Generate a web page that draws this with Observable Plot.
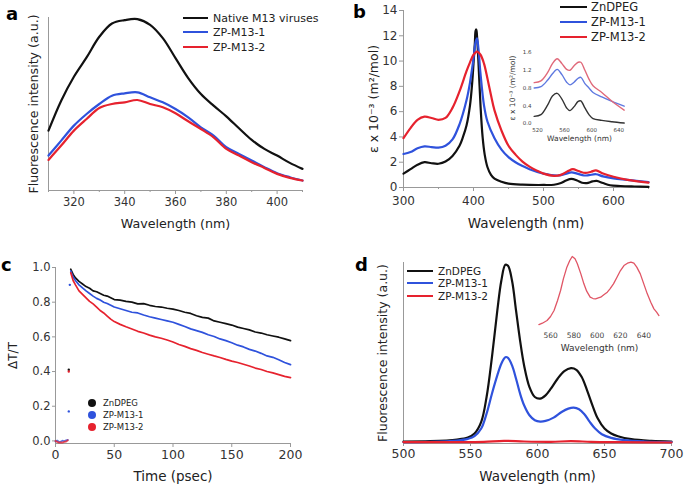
<!DOCTYPE html>
<html><head><meta charset="utf-8">
<script src="https://cdn.jsdelivr.net/npm/d3@7"></script>
<script src="https://cdn.jsdelivr.net/npm/@observablehq/plot@0.6"></script>
<style>
body{margin:0;background:#fff;}
#root{position:relative;width:685px;height:491px;overflow:hidden;font-family:"DejaVu Sans",sans-serif;color:#222;}
.letter{position:absolute;font-weight:bold;font-size:18px;line-height:20px;color:#000;}
.legrow{position:absolute;display:flex;align-items:center;white-space:nowrap;color:#222;}
</style>
</head><body><div id="root"></div>
<script>
// ---------- colours ----------
const cBlack = "#111111", cBlue = "#2f52dc", cRed = "#e6222e";

// ---------- panel a : fluorescence of M13 (arbitrary units) ----------
const aWavelength = [310,315,320,325,330,335,340,345,350,355,360,365,370,375,380,385,390,395,400,405,410];
const aNative = [180,270,342,400,462,502,512,515,498,458,398,338,290,255,223,187,152,125,105,83,65];
const aZP1    = [105,150,195,230,260,285,292,295,280,265,245,220,190,165,130,110,90,70,52,40,30];
const aZP2    = [92,135,180,215,248,260,265,272,260,250,232,208,185,160,125,105,85,68,50,38,30];
const aSeries = ["Native M13 viruses","ZP-M13-1","ZP-M13-2"];
const aTicks = [320,340,360,380,400];
const aMinor = [310,330,350,370,390,410];

// ---------- panel b : absorption ----------
const bBlackX = [300,310,320,330,340,350,360,370,380,385,390,395,398,400,402,403,404,405,407,410,413,416,420,425,430,440,450,470,500,515,525,532,540,548,555,562,570,576,585,595,610,630,650];
const bBlackY = [1.1,1.45,1.8,2.0,1.92,1.88,2.05,2.5,3.3,4.0,4.9,6.5,8.2,9.8,11.5,12.4,12.5,12.0,10.0,6.5,4.0,2.6,1.6,1.0,0.7,0.45,0.3,0.22,0.2,0.22,0.35,0.55,0.68,0.55,0.38,0.35,0.48,0.52,0.35,0.18,0.12,0.08,0.05];
const bBlueX = [300,310,320,330,340,350,360,370,380,390,395,400,403,405,407,410,415,420,430,440,450,460,470,480,500,520,530,540,548,558,565,575,585,600,620,650];
const bBlueY = [2.65,2.8,3.1,3.25,3.2,3.15,3.3,3.8,5.0,6.9,8.3,10.2,11.5,11.8,11.0,9.0,6.5,5.2,3.9,3.0,2.4,2.0,1.7,1.45,1.1,0.95,1.05,1.2,1.1,0.95,0.98,1.05,0.88,0.72,0.6,0.42];
const bRedX = [300,310,320,330,340,350,360,370,380,390,395,400,405,410,415,420,425,430,440,450,460,470,480,490,500,515,525,535,542,550,560,568,575,585,600,620,650];
const bRedY = [3.9,4.7,5.35,5.6,5.5,5.35,5.5,6.3,7.6,9.2,9.9,10.5,10.75,10.5,9.8,8.6,7.3,6.1,4.5,3.3,2.6,2.05,1.65,1.35,1.1,0.92,1.0,1.3,1.45,1.3,1.15,1.25,1.35,1.1,0.85,0.6,0.38];
const bSeries = ["ZnDPEG","ZP-M13-1","ZP-M13-2"];
const bYTicks = [0,2,4,6,8,10,12,14];
const bXTicks = [300,400,500,600];
const bXMinor = [350,450,550,650];

// inset b
const biX = [515,525,535,542,549,556,563,568,574,580,584,590,596,602,615,630,648];
const biBlack = [0.16,0.2,0.42,0.62,0.68,0.55,0.35,0.29,0.38,0.5,0.51,0.35,0.2,0.11,0.07,0.04,0.01];
const biBlue  = [0.8,0.83,0.98,1.12,1.22,1.1,0.93,0.87,0.93,1.02,1.04,0.9,0.8,0.7,0.6,0.5,0.39];
const biRed   = [0.92,0.96,1.15,1.35,1.46,1.35,1.22,1.2,1.3,1.38,1.38,1.2,1.0,0.85,0.7,0.5,0.3];
const biXTicks = [520,560,600,640];
const biYTicks = [0,0.4,0.8,1.2,1.6];

// ---------- panel c : transient absorption ----------
const cTime = [13,15,17,20,23,26,29,32,35,38,41,44,47,50,55,60,65,70,75,80,85,90,95,100,105,110,115,120,125,130,135,140,145,150,155,160,165,170,175,180,185,190,195,200];
const cZn  = [0.99,0.96,0.94,0.92,0.905,0.89,0.88,0.865,0.86,0.85,0.84,0.835,0.825,0.815,0.812,0.805,0.80,0.79,0.792,0.782,0.775,0.772,0.765,0.76,0.752,0.742,0.735,0.722,0.712,0.708,0.692,0.684,0.676,0.668,0.656,0.648,0.64,0.628,0.622,0.612,0.605,0.598,0.588,0.578];
const cZP1 = [0.98,0.945,0.925,0.9,0.882,0.865,0.85,0.835,0.822,0.812,0.80,0.792,0.782,0.772,0.762,0.752,0.742,0.738,0.726,0.716,0.708,0.70,0.692,0.684,0.672,0.66,0.646,0.636,0.626,0.612,0.602,0.588,0.578,0.566,0.552,0.542,0.528,0.518,0.505,0.49,0.482,0.468,0.452,0.44];
const cZP2 = [0.97,0.925,0.9,0.865,0.845,0.825,0.805,0.79,0.772,0.752,0.738,0.72,0.702,0.688,0.672,0.658,0.645,0.632,0.622,0.61,0.60,0.592,0.582,0.57,0.556,0.545,0.532,0.522,0.51,0.50,0.49,0.481,0.47,0.46,0.452,0.442,0.432,0.42,0.412,0.40,0.392,0.382,0.372,0.365];
const cBaseTime = [0,1.5,3,4.5,6,7.5,9,10.5];
const cBaseRed  = [0.0,-0.006,-0.01,-0.008,-0.01,-0.005,-0.004,0.004];
const cBaseBlue = [-0.003,0.002,-0.006,-0.004,0.001,-0.002,0.003,0.006];
const cSpikeT = [11.3,11.3,11.3,12.2];
const cSpikeV = [0.41,0.40,0.17,0.90];
const cSpikeS = ["ZnDPEG","ZP-M13-2","ZP-M13-1","ZP-M13-1"];
const cXTicks = [0,50,100,150,200];
const cYTicks = [0,0.2,0.4,0.6,0.8,1.0];

// ---------- panel d : fluorescence ----------
const dBlackX = [500,520,540,548,553,558,562,566,570,573,576,578,581,584,587,590,594,598,602,606,610,615,620,625,629,633,637,641,645,650,655,660,670,685,700];
const dBlackY = [6,7,12,18,30,65,140,260,400,490,538,535,490,400,310,235,170,140,135,145,165,195,218,227,222,200,160,115,75,45,30,22,13,8,6];
const dBlueX = [500,520,540,548,553,558,562,566,570,573,576,578,581,584,587,590,594,598,602,606,612,618,623,627,631,635,639,643,648,655,665,680,700];
const dBlueY = [4,5,9,14,22,45,90,150,205,240,260,258,235,195,150,115,85,70,66,68,78,95,105,108,103,88,65,45,28,17,10,6,4];
const dRedX = [500,540,560,575,590,610,625,640,660,700];
const dRedY = [4,4,5,8,6,5,7,5,4,3];
const dXTicks = [500,550,600,650,700];
// inset d
const diX = [550,553,557,560,563,566,568.6,571,574,576.5,578.6,581,583,586,588.6,591,594,596.5,598.6,601,603,606,608.7,611,614,617,620,623,626,629,631.5,634,637,640,643,646,648.7,651,653];
const diY = [8,12,20,32,50,80,110,145,180,200,212,205,190,160,130,108,90,86,85,88,90,98,105,115,130,150,170,185,192,195,192,180,160,130,100,75,55,45,35];
const diXTicks = [560,580,600,620,640];

// ---------- helpers ----------
const root = document.getElementById("root");
const AX = "#999";
const FONT = "DejaVu Sans";
function place(opts, left, top) {
  const svg = Plot.plot({
    ...opts,
    style: {background: "transparent", fontFamily: FONT, overflow: "visible", color: "#222"}
  });
  svg.style.position = "absolute";
  svg.style.left = left + "px";
  svg.style.top = top + "px";
  root.appendChild(svg);
}
function rows(xs, ys, s) { return xs.map((x, i) => ({x, y: ys[i], s})); }
function letter(t, left, top) {
  const d = document.createElement("div"); d.className = "letter"; d.textContent = t;
  d.style.left = left + "px"; d.style.top = top + "px"; root.appendChild(d);
}
function ytitle(t, dx, fontSize, fill = "#222") {
  return Plot.text([t], {text: d => d, frameAnchor: "left", textAnchor: "middle", dx, rotate: -90, fontSize, fill});
}
function xtitle(t, dy, fontSize, fill = "#222") {
  return Plot.text([t], {text: d => d, frameAnchor: "bottom", textAnchor: "middle", dy, fontSize, fill});
}
function legend(items, colors, {left, tops, fontSize, swatchW, gap, dot}) {
  items.forEach((t, i) => {
    const r = document.createElement("div"); r.className = "legrow";
    r.style.left = left + "px"; r.style.top = (tops[i] - 8) + "px"; r.style.height = "16px";
    r.style.fontSize = fontSize + "px";
    const sw = document.createElement("span");
    if (dot) {
      sw.style.cssText = `display:inline-block;width:${dot}px;height:${dot}px;border-radius:50%;background:${colors[i]};margin-right:${gap}px`;
    } else {
      sw.style.cssText = `display:inline-block;width:${swatchW}px;height:2.5px;background:${colors[i]};margin-right:${gap}px`;
    }
    const tx = document.createElement("span"); tx.textContent = t;
    r.appendChild(sw); r.appendChild(tx); root.appendChild(r);
  });
}
const colorsABD = [cBlack, cBlue, cRed];

// ---------- panel a ----------
{
  const data = [...rows(aWavelength, aNative, aSeries[0]), ...rows(aWavelength, aZP1, aSeries[1]), ...rows(aWavelength, aZP2, aSeries[2])];
  place({
    width: 320, height: 250, marginLeft: 48, marginRight: 18, marginTop: 17, marginBottom: 60,
    x: {domain: [310, 410]}, y: {domain: [0, 520], axis: null},
    color: {domain: aSeries, range: colorsABD},
    marks: [
      Plot.ruleX([310], {stroke: AX, strokeWidth: 1}),
      Plot.ruleY([0], {stroke: AX, strokeWidth: 1}),
      Plot.axisX({ticks: aMinor, tickSize: 2, tickFormat: () => "", stroke: AX, label: null}),
      Plot.axisX({ticks: aTicks, tickSize: 4, tickPadding: 3, fontSize: 11.5, stroke: AX, fill: "#333", label: null}),
      Plot.line(data, {x: "x", y: "y", z: "s", stroke: "s", strokeWidth: 2.2, curve: "catmull-rom"}),
      xtitle("Wavelength (nm)", 37, 12.7),
      ytitle("Fluorescence intensity (a.u.)", -15, 12.6)
    ]
  }, 0, 0);
  letter("a", 6, 4);
  legend(aSeries, colorsABD, {left: 183, tops: [18, 32, 47], fontSize: 11, swatchW: 25, gap: 5});
}

// ---------- panel b ----------
{
  const data = [...rows(bBlackX, bBlackY, bSeries[0]), ...rows(bBlueX, bBlueY, bSeries[1]), ...rows(bRedX, bRedY, bSeries[2])];
  place({
    width: 345, height: 250, marginLeft: 63, marginRight: 37, marginTop: 10, marginBottom: 63,
    x: {domain: [300, 650]}, y: {domain: [0, 14]},
    color: {domain: bSeries, range: colorsABD},
    marks: [
      Plot.ruleX([300], {stroke: AX}),
      Plot.ruleY([0], {stroke: AX}),
      Plot.axisX({ticks: bXMinor, tickSize: 2, tickFormat: () => "", stroke: AX, label: null}),
      Plot.axisX({ticks: bXTicks, tickSize: 4, tickPadding: 5, fontSize: 12, stroke: AX, fill: "#333", label: null}),
      Plot.axisY({ticks: bYTicks, tickSize: 4, tickPadding: 2, fontSize: 12, stroke: AX, fill: "#333", label: null}),
      Plot.line(data, {x: "x", y: "y", z: "s", stroke: "s", strokeWidth: 2.2, curve: "catmull-rom"}),
      xtitle("Wavelength (nm)", 40, 13.5),
      ytitle("ε x 10⁻³ (m²/mol)", -30, 12.5)
    ]
  }, 340, 0);
  letter("b", 353, 2);
  legend(bSeries, colorsABD, {left: 560, tops: [7, 22, 37], fontSize: 11.5, swatchW: 27, gap: 4});

  // inset
  const idata = [...rows(biX, biBlack, bSeries[0]), ...rows(biX, biBlue, bSeries[1]), ...rows(biX, biRed, bSeries[2])];
  place({
    width: 145, height: 110, marginLeft: 43, marginRight: 10, marginTop: 12, marginBottom: 27,
    x: {domain: [514, 650]}, y: {domain: [0, 1.6]},
    color: {domain: bSeries, range: ["#333333", "#5f79e0", "#e0697a"]},
    marks: [
      Plot.axisX({ticks: biXTicks, tickSize: 0, tickPadding: 5, fontSize: 5.5, fill: "#444", label: null}),
      Plot.axisY({ticks: biYTicks, tickSize: 0, tickPadding: 2, fontSize: 5.5, fill: "#444", tickFormat: d3.format(".1f"), label: null}),
      Plot.line(idata, {x: "x", y: "y", z: "s", stroke: "s", strokeWidth: 1.4, curve: "catmull-rom"}),
      xtitle("Wavelength (nm)", 17, 7.5, "#333"),
      ytitle("ε x 10⁻³ (m²/mol)", -21, 7.5, "#333")
    ]
  }, 490, 40);
}

// ---------- panel c ----------
{
  const names = ["ZnDPEG", "ZP-M13-1", "ZP-M13-2"];
  const lines = [...rows(cTime, cZn, names[0]), ...rows(cTime, cZP1, names[1]), ...rows(cTime, cZP2, names[2])];
  const base = [...rows(cBaseTime, cBaseBlue, names[1]), ...rows(cBaseTime, cBaseRed, names[2])];
  const spikes = cSpikeT.map((t, i) => ({x: t, y: cSpikeV[i], s: cSpikeS[i]}));
  place({
    width: 320, height: 241, marginLeft: 55, marginRight: 30, marginTop: 17, marginBottom: 48,
    x: {domain: [0, 200]}, y: {domain: [-0.015, 1.0]},
    color: {domain: names, range: [cBlack, cBlue, cRed]},
    marks: [
      Plot.ruleX([0], {stroke: AX}),
      Plot.ruleY([-0.015], {stroke: AX}),
      Plot.axisX({ticks: cXTicks, tickSize: 4, tickPadding: 3, fontSize: 12.5, stroke: AX, fill: "#333", label: null}),
      Plot.axisY({ticks: cYTicks, tickSize: 3, tickPadding: 2, fontSize: 11.5, stroke: AX, fill: "#333", tickFormat: d3.format(".1f"), label: null}),
      Plot.line(base, {x: "x", y: "y", z: "s", stroke: "s", strokeWidth: 1.8, strokeOpacity: 0.8}),
      Plot.line(lines, {x: "x", y: "y", z: "s", stroke: "s", strokeWidth: 1.7}),
      Plot.dot(spikes, {x: "x", y: "y", fill: "s", r: 1.2}),
      xtitle("Time (psec)", 37, 13.5),
      ytitle("ΔT/T", -42, 12)
    ]
  }, 0, 250);
  letter("c", 1, 255);
  legend(names, [cBlack, cBlue, cRed], {left: 88, tops: [403, 415, 427], fontSize: 8.5, dot: 8, gap: 7});
}

// ---------- panel d ----------
{
  const names = ["ZnDPEG", "ZP-M13-1", "ZP-M13-2"];
  const data = [...rows(dBlackX, dBlackY, names[0]), ...rows(dBlueX, dBlueY, names[1]), ...rows(dRedX, dRedY, names[2])];
  place({
    width: 345, height: 241, marginLeft: 63, marginRight: 14, marginTop: 12, marginBottom: 48,
    x: {domain: [500, 700]}, y: {domain: [0, 545], axis: null},
    color: {domain: names, range: colorsABD},
    marks: [
      Plot.ruleX([500], {stroke: AX}),
      Plot.ruleY([0], {stroke: AX}),
      Plot.axisX({ticks: dXTicks, tickSize: 3, tickPadding: 3, fontSize: 12.5, stroke: AX, fill: "#333", label: null}),
      Plot.line(data, {x: "x", y: "y", z: "s", stroke: "s", strokeWidth: 2.2, curve: "catmull-rom"}),
      xtitle("Wavelength (nm)", 37, 13.5),
      ytitle("Fluorescence intensity (a.u.)", -21, 12.5)
    ]
  }, 340, 250);
  letter("d", 355, 255);
  legend(names, colorsABD, {left: 407, tops: [271, 283, 296], fontSize: 10.5, swatchW: 26, gap: 5});

  const idata = diX.map((x, i) => ({x, y: diY[i]}));
  place({
    width: 150, height: 125, marginLeft: 18.4, marginRight: 10.4, marginTop: 10, marginBottom: 38.3,
    x: {domain: [550, 654]}, y: {domain: [0, 230], axis: null},
    marks: [
      Plot.axisX({ticks: diXTicks, tickSize: 0, tickPadding: 5, fontSize: 7.5, fill: "#444", label: null}),
      Plot.line(idata, {x: "x", y: "y", stroke: "#e05565", strokeWidth: 1.3}),
      xtitle("Wavelength (nm)", 24, 9, "#333")
    ]
  }, 520, 240);
}
</script>
</body></html>
